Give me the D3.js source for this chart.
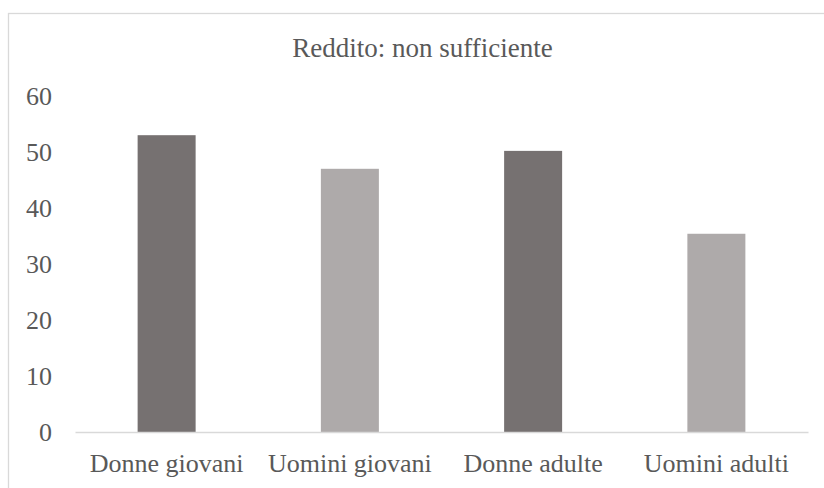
<!DOCTYPE html>
<html>
<head>
<meta charset="utf-8">
<script src="https://cdn.jsdelivr.net/npm/d3@7"></script>
<style>
  html, body { margin: 0; padding: 0; background: #fff; }
  svg { display: block; }
</style>
</head>
<body>
<svg id="chart" width="824" height="488"></svg>
<script>
// Data
const categories = ["Donne giovani", "Uomini giovani", "Donne adulte", "Uomini adulti"];
const values = [53.0, 47.0, 50.2, 35.4];
const yTicks = [0, 10, 20, 30, 40, 50, 60];
const title = "Reddito: non sufficiente";

const barColors = ["#767171", "#AEAAAA", "#767171", "#AEAAAA"];
const textColor = "#595959";
const lineColor = "#D9D9D9";
const font = "'Liberation Serif', 'Times New Roman', serif";

const svg = d3.select("#chart");

// Chart area frame
svg.append("rect")
  .attr("x", 8.5).attr("y", 13.5)
  .attr("width", 830).attr("height", 490)
  .attr("fill", "#fff")
  .attr("stroke", lineColor)
  .attr("stroke-width", 1.3);

const plot = { left: 75, right: 808, top: 96, bottom: 432 };

const x = d3.scaleBand()
  .domain(categories)
  .range([plot.left, plot.right])
  .paddingInner(0.6835)
  .paddingOuter(0.6835 / 2);

const y = d3.scaleLinear()
  .domain([0, 60])
  .range([plot.bottom, plot.top]);

// Title
svg.append("text")
  .attr("x", 422.5).attr("y", 57)
  .attr("text-anchor", "middle")
  .attr("font-family", font)
  .attr("font-size", 27)
  .attr("fill", textColor)
  .text(title);

// Bars
svg.append("g")
  .selectAll("rect")
  .data(categories.map((c, i) => ({ c, v: values[i], i })))
  .join("rect")
  .attr("x", d => x(d.c))
  .attr("y", d => y(d.v))
  .attr("width", x.bandwidth())
  .attr("height", d => y(0) - y(d.v))
  .attr("fill", d => barColors[d.i]);

// Y axis labels
const yAxis = svg.append("g")
  .attr("transform", "translate(52,0)")
  .call(d3.axisLeft(y).tickValues(yTicks).tickSize(0).tickPadding(0).tickFormat(d3.format("d")));
yAxis.select(".domain").remove();
yAxis.selectAll("text")
  .attr("font-family", font)
  .attr("font-size", 26)
  .attr("fill", textColor)
  .attr("dy", "0.32em");

// X axis with baseline
const xAxis = svg.append("g")
  .attr("transform", `translate(0,${plot.bottom})`)
  .call(d3.axisBottom(x).tickSize(0).tickPadding(0));
xAxis.select(".domain")
  .attr("stroke", lineColor)
  .attr("stroke-width", 1.6);
xAxis.selectAll("text")
  .attr("font-family", font)
  .attr("font-size", 26)
  .attr("fill", textColor)
  .attr("dy", 0)
  .attr("y", 40);
</script>
</body>
</html>
